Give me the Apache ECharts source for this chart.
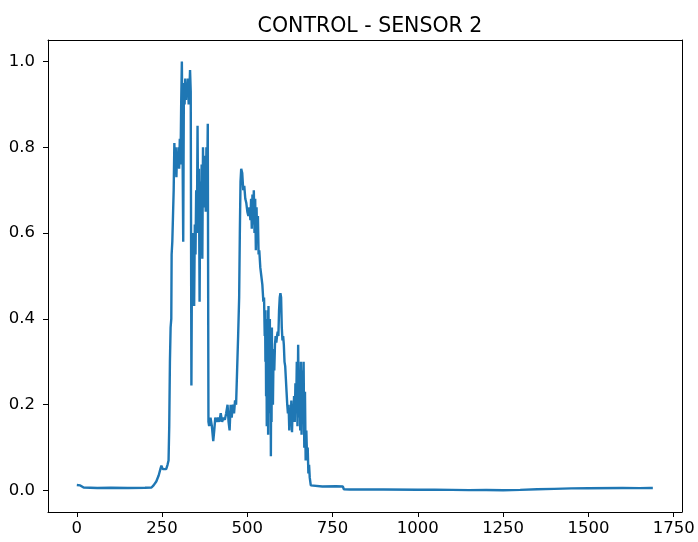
<!DOCTYPE html>
<html>
<head>
<meta charset="utf-8">
<script src="https://cdn.jsdelivr.net/npm/echarts@6/dist/echarts.min.js"></script>
<style>
  html, body { margin: 0; padding: 0; background: #fff; }
  #chart { width: 698px; height: 542px; }
</style>
</head>
<body>
<div id="chart"></div>
<script>
// sample index / reading pairs
const sampleIdx = [
  0, 10, 14, 20, 60, 100, 150, 200, 219, 225, 233, 240, 245, 248, 252, 256, 262, 266, 269,
  271, 273, 275, 277, 278, 280, 282, 284, 286, 288, 290, 292, 294, 296, 298, 300, 302, 304, 306, 308,
  310, 312, 314, 316, 318, 320, 322, 324, 326, 328, 330, 332, 334, 336, 338, 340, 342, 344, 346, 348,
  350, 352, 354, 356, 358, 360, 362, 364, 366, 368, 370, 372, 374, 376, 378, 380, 382, 384, 386, 388,
  392, 396, 400, 403, 406, 410, 414, 418, 422, 426, 430, 434, 438, 442, 445, 448, 451, 454, 458, 461,
  464, 467, 470, 473, 476, 478, 480, 482, 485, 488, 491, 494, 497, 500, 503, 506, 509, 511, 513, 515,
  517, 519, 521, 523, 525, 527, 529, 531, 533, 535, 538, 541, 544, 547, 549, 551, 552, 553, 554, 555,
  556, 557, 558, 559, 560, 561, 562, 563, 564, 565, 566, 567, 568, 569, 570, 571, 572, 573, 574, 575,
  577, 579, 581, 583, 585, 587, 589, 591, 593, 595, 597, 599, 601, 603, 605, 607, 609, 611, 613, 615,
  617, 619, 621, 623, 625, 627, 629, 631, 633, 635, 637, 639, 641, 643, 645, 647, 649, 651, 653, 655,
  657, 659, 661, 663, 665, 667, 669, 671, 673, 675, 677, 679, 681, 683, 686, 690, 720, 760, 780, 783,
  800, 900, 1000, 1050, 1100, 1150, 1200, 1250, 1300, 1350, 1400, 1450, 1500, 1600, 1650, 1680, 1683, 1689
];
const sensorVals = [
  0.013, 0.012, 0.009, 0.007, 0.006, 0.0065, 0.006, 0.0065, 0.007, 0.012, 0.021, 0.035, 0.05, 0.058, 0.05, 0.046, 0.05, 0.06, 0.07,
  0.15, 0.3, 0.38, 0.4, 0.55, 0.58, 0.64, 0.7, 0.81, 0.74, 0.8, 0.73, 0.79, 0.76, 0.8, 0.75, 0.82, 0.76, 0.9, 1.0,
  0.8, 0.58, 0.95, 0.9, 0.96, 0.91, 0.95, 0.92, 0.96, 0.9, 0.93, 0.98, 0.93, 0.245, 0.6, 0.45, 0.6, 0.43, 0.62, 0.55,
  0.7, 0.6, 0.85, 0.6, 0.75, 0.44, 0.72, 0.55, 0.76, 0.54, 0.8, 0.66, 0.72, 0.78, 0.65, 0.8, 0.7, 0.855, 0.16, 0.15,
  0.17, 0.15, 0.115, 0.14, 0.17, 0.16, 0.17, 0.16, 0.18, 0.16, 0.17, 0.165, 0.18, 0.2, 0.16, 0.14, 0.2, 0.17, 0.2, 0.18,
  0.21, 0.2, 0.28, 0.36, 0.45, 0.6, 0.72, 0.75, 0.74, 0.7, 0.71, 0.68, 0.67, 0.65, 0.64, 0.66, 0.63, 0.68, 0.61, 0.69,
  0.62, 0.7, 0.6, 0.68, 0.56, 0.66, 0.58, 0.64, 0.55, 0.56, 0.52, 0.5, 0.48, 0.44, 0.45, 0.36, 0.42, 0.3, 0.4, 0.22,
  0.38, 0.15, 0.35, 0.2, 0.42, 0.13, 0.43, 0.18, 0.38, 0.25, 0.4, 0.2, 0.33, 0.08, 0.3, 0.16, 0.38, 0.22, 0.33, 0.2,
  0.33, 0.28, 0.34, 0.36, 0.345, 0.36, 0.37, 0.36, 0.42, 0.45, 0.46, 0.45, 0.38, 0.35, 0.36, 0.34, 0.3, 0.29, 0.26, 0.23,
  0.2, 0.18, 0.2, 0.14, 0.19, 0.15, 0.21, 0.136, 0.2, 0.16, 0.22, 0.16, 0.25, 0.18, 0.3, 0.15, 0.34, 0.17, 0.28, 0.14,
  0.3, 0.13, 0.28, 0.2, 0.3, 0.1, 0.23, 0.07, 0.14, 0.08, 0.1, 0.04, 0.06, 0.03, 0.012, 0.009, 0.0095, 0.01, 0.0095, 0.003,
  0.0025, 0.0025, 0.002, 0.002, 0.0015, 0.001, 0.0012, 0.0008, 0.0015, 0.003, 0.004, 0.005, 0.0055, 0.0058, 0.0056, 0.006, 0.004, 0.006
];
const xTicks = [0, 250, 500, 750, 1000, 1250, 1500, 1750];
const yTicks = [0, 0.2, 0.4, 0.6, 0.8, 1.0];

const points = sampleIdx.map((x, i) => [x, sensorVals[i]]);

const chart = echarts.init(document.getElementById('chart'), null, { renderer: 'canvas' });
const font = 'DejaVu Sans';
const spineStyle = { color: '#000', width: 1 };

chart.setOption({
  animation: false,
  backgroundColor: '#fff',
  title: {
    text: 'CONTROL - SENSOR 2',
    left: 365,
    top: 11,
    textAlign: 'center',
    textStyle: { fontFamily: font, fontSize: 20.5, fontWeight: 'normal', color: '#000' }
  },
  grid: { left: 48, right: 16, top: 40, bottom: 30 },
  xAxis: [
    {
      type: 'value',
      position: 'bottom',
      min: -84.5,
      max: 1774.5,
      splitLine: { show: false },
      axisLine: { show: true, onZero: false, lineStyle: spineStyle },
      axisTick: { show: true, inside: false, length: 5, lineStyle: { color: '#000' }, customValues: xTicks },
      axisLabel: {
        customValues: xTicks,
        margin: 8,
        fontFamily: font,
        fontSize: 16.5,
        color: '#000',
        formatter: v => String(v)
      }
    },
    {
      // top spine
      type: 'value',
      position: 'top',
      min: -84.5,
      max: 1774.5,
      axisLine: { show: true, onZero: false, lineStyle: spineStyle },
      axisTick: { show: false },
      axisLabel: { show: false },
      splitLine: { show: false }
    }
  ],
  yAxis: [
    {
      type: 'value',
      position: 'left',
      min: -0.05,
      max: 1.05,
      splitLine: { show: false },
      axisLine: { show: true, onZero: false, lineStyle: spineStyle },
      axisTick: { show: true, inside: false, length: 5, lineStyle: { color: '#000' }, customValues: yTicks },
      axisLabel: {
        customValues: yTicks,
        margin: 13,
        fontFamily: font,
        fontSize: 16.5,
        color: '#000',
        formatter: v => v.toFixed(1)
      }
    },
    {
      // right spine
      type: 'value',
      position: 'right',
      min: -0.05,
      max: 1.05,
      axisLine: { show: true, onZero: false, lineStyle: spineStyle },
      axisTick: { show: false },
      axisLabel: { show: false },
      splitLine: { show: false }
    }
  ],
  series: [
    {
      type: 'line',
      data: points,
      showSymbol: false,
      symbol: 'none',
      lineStyle: { color: '#1f77b4', width: 2.4 },
      clip: true
    }
  ]
});
</script>
</body>
</html>
